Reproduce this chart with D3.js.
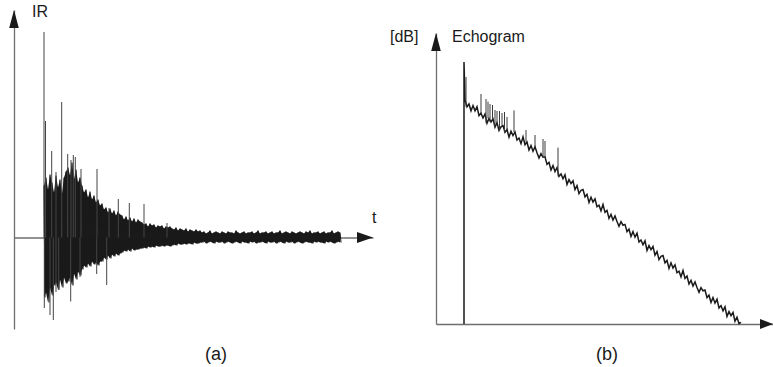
<!DOCTYPE html>
<html><head><meta charset="utf-8">
<script src="https://cdn.jsdelivr.net/npm/d3@7"></script>
<style>body{margin:0;background:#fff}svg{display:block}text{font-family:"Liberation Sans",Arial,sans-serif;font-size:16px;fill:#1a1a1a}</style>
</head><body>
<script>
// ---------- Panel (a): impulse response (arbitrary amplitude units, time in ms) ----------
const irStart = 30, irStep = 2;
const irUpper = [52,60,48,63,55,45,62,50,58,44,60,66,
 70,62,75,58,68,55,60,
 52,45,48,40,46,38,42,35,38,32,
 34,28,30,25,29,24,27,22,26,23,
 22,18,21,17,20,16,19,15,18,16,
 15,13,14,11,14,12,13,10,12,11,12,9,11,10,11,
 9,8,10,7,9,8,7,9,6,8,7,6,8,6,7,
 5,6,4,5,7,4,5,6,5,4,6,5,4,6,5,5,4,7,5,4,5,6,4,5,5,6,4,5,7,4,5,5,6,4,5,6,4,5,5,7,
 4,5,6,5,4,6,5,4,5,6,5,4,6,5,7,4,5,5,6,4,5,6,4,5,5,7,4,5,6,5];
const irLower = [-60,-55,-65,-50,-58,-48,-45,-52,-42,-50,-40,-46,
 -44,-40,-48,-36,-42,-34,-38,
 -32,-28,-30,-26,-29,-24,-27,-25,-28,-24,
 -24,-20,-22,-18,-21,-17,-19,-16,-18,-16,
 -15,-13,-14,-12,-14,-11,-13,-12,-12,-11,
 -11,-10,-11,-9,-10,-9,-10,-8,-9,-9,-8,-9,-8,-8,-9,
 -8,-7,-8,-6,-7,-7,-6,-7,-6,-6,-7,-5,-6,-6,-5,
 -5,-4,-6,-5,-4,-5,-6,-4,-5,-5,-4,-6,-5,-4,-5,-6,-5,-4,-5,-6,-4,-5,-5,-6,-4,-5,-4,-6,-5,-5,
 -4,-5,-6,-4,-5,-5,-4,-6,-5,-4,-5,-6,-4,-5,-5,-4,-6,-5,-4,-5,-6,-5,-4,-5,-5,-6,-4,-5,-4,-5,
 -5,-6,-4,-5,-4,-5,-6,-5,-4,-5];
const irSpikeT = [30,31.5,37.7,42,47.7,53.7,57,59.3,61.3,67,83,95,104.3,115.3,130,153,
                  30.3,36,39.3,42,44.7,56.7,66,82.7,92.7];
const irSpikeA = [205.5,116.5,86.5,65.5,135.5,83.5,77.5,82.5,80.5,68.5,68.5,29.5,38.5,34.5,33.5,14.5,
                  -70.5,-77.5,-82.5,-54.5,-52.5,-64,-39.5,-36.5,-47.5];

// ---------- Panel (b): echogram (dB, time in ms) ----------
const echoStart = 29, echoStep = 2, echoOnsetT = 28, echoOnsetDb = 0;
const echoDb = [-9.5,-11.2,-10.5,-12.2,-10.9,-12.2,-11.2,-13.4,-12.8,-14.0,
 -13.0,-15.3,-14.1,-15.0,-14.2,-16.3,-15.2,-17.1,-16.2,-15.9,
 -17.6,-16.9,-18.8,-17.3,-18.4,-17.5,-19.5,-19.0,-20.4,-18.7,
 -20.7,-20.0,-22.0,-20.9,-22.3,-21.2,-22.7,-24.0,-22.9,-23.8,
 -23.7,-25.6,-25.1,-27.0,-25.9,-27.4,-26.4,-28.6,-28.0,-29.2,
 -28.2,-30.6,-29.4,-30.4,-29.7,-31.9,-30.9,-32.9,-32.1,-31.9,
 -33.7,-33.1,-35.1,-33.8,-35.0,-34.2,-36.2,-35.8,-37.2,-35.6,
 -37.6,-37.1,-39.1,-38.1,-39.5,-38.5,-39.9,-41.1,-39.9,-40.8,
 -40.6,-42.4,-41.8,-43.6,-42.4,-43.8,-42.8,-45.0,-44.5,-45.7,
 -44.7,-47.1,-45.9,-46.9,-46.1,-48.3,-47.4,-49.4,-48.6,-48.4,
 -50.2,-49.6,-51.6,-50.2,-51.5,-50.7,-52.7,-52.3,-53.7,-52.1,
 -54.1,-53.5,-55.5,-54.6,-56.0,-55.0,-56.4,-57.6,-56.4,-57.2,
 -57.0,-58.9,-58.3,-60.1,-58.9,-60.3,-59.3,-61.5,-60.9,-62.2,
 -61.2,-63.6,-62.4,-63.4,-62.6,-64.8,-63.8,-65.4,-65.1];
const echoSpikeT = [30,45,50,52,54,56.5,59,61,63.5,66,68.5,71,78,90,99,107,109,122];
const echoSpikeDb = [-3.75,-8.0,-9.25,-9.9,-10.5,-10.75,-12,-12.25,-12.25,-12.75,-12.5,-13.75,-12.1,-17,-18.25,-19.25,-19.75,-21.4];

const labels = {yA:"IR", xA:"t", yB:"[dB]", titleB:"Echogram", capA:"(a)", capB:"(b)"};

// ---------- drawing ----------
const W = 773, H = 367;
const svg = d3.select("body").append("svg").attr("width", W).attr("height", H);
const axisCol = "#6e6e6e", inkCol = "#1a1a1a";

function arrow(g, x, y, dir, len, half) {
  let pts;
  if (dir === "up") pts = [[x, y], [x - half, y + len], [x + half, y + len]];
  else pts = [[x, y], [x - len, y - half], [x - len, y + half]];
  g.append("path").attr("d", "M" + pts.join("L") + "Z").attr("fill", inkCol);
}

// Panel (a)
const xA = d3.scaleLinear().domain([0, 359]).range([14, 373]);
const yA = d3.scaleLinear().domain([-91.5, 227.5]).range([329, 10]);
const gA = svg.append("g");
const axA = gA.append("g").attr("transform", `translate(0,${yA(0)})`)
  .call(d3.axisBottom(xA).tickValues([]).tickSizeOuter(0));
const ayA = gA.append("g").attr("transform", `translate(${xA(0)},0)`)
  .call(d3.axisLeft(yA).tickValues([]).tickSizeOuter(0));
[axA, ayA].forEach(a => a.select(".domain").attr("stroke", axisCol).attr("stroke-width", 1.3));

const irT = irUpper.map((_, i) => irStart + i * irStep);
// dense body of the response
gA.append("path")
  .attr("d", d3.area().x((d, i) => xA(irT[i])).y0((d, i) => yA(irLower[i])).y1(d => yA(d))(irUpper))
  .attr("fill", inkCol);
const pts = [];
irT.forEach((t, i) => { pts.push([xA(t), yA(irUpper[i])]); pts.push([xA(t + 1), yA(irLower[i])]); });
gA.append("path").attr("d", d3.line()(pts)).attr("fill", "none").attr("stroke", inkCol).attr("stroke-width", 1.1);
gA.selectAll("line.sp").data(irSpikeT).join("line")
  .attr("x1", d => xA(d)).attr("x2", d => xA(d))
  .attr("y1", yA(0)).attr("y2", (d, i) => yA(irSpikeA[i]))
  .attr("stroke", "#444").attr("stroke-width", 1);
arrow(gA, xA(0), yA.range()[1], "up", 18, 4.8);
arrow(gA, xA.range()[1], yA(0), "right", 16, 5.5);
gA.append("text").attr("x", 32).attr("y", 17).text(labels.yA);
gA.append("text").attr("x", 372).attr("y", 223).text(labels.xA);
gA.append("text").attr("x", 216).attr("y", 360).attr("text-anchor", "middle").style("font-size", "18px").text(labels.capA);

// Panel (b)
const xB = d3.scaleLinear().domain([0, 337]).range([436, 773]);
const yB = d3.scaleLinear().domain([-65.5, 7.25]).range([324, 33]);
const gB = svg.append("g");
const axB = gB.append("g").attr("transform", `translate(0,${yB(-65.5)})`)
  .call(d3.axisBottom(xB).tickValues([]).tickSizeOuter(0));
const ayB = gB.append("g").attr("transform", `translate(${xB(0)},0)`)
  .call(d3.axisLeft(yB).tickValues([]).tickSizeOuter(0));
[axB, ayB].forEach(a => a.select(".domain").attr("stroke", axisCol).attr("stroke-width", 1.3));

const echoT = echoDb.map((_, i) => echoStart + i * echoStep);
const ePts = [[xB(echoOnsetT), yB(-65.5)], [xB(echoOnsetT), yB(echoOnsetDb)]]
  .concat(echoT.map((t, i) => [xB(t), yB(echoDb[i])]));
gB.append("path").attr("d", d3.line()(ePts)).attr("fill", "none").attr("stroke", inkCol)
  .attr("stroke-width", 1.5).attr("stroke-linejoin", "miter");
gB.selectAll("line.sp").data(echoSpikeT).join("line")
  .attr("x1", d => xB(d)).attr("x2", d => xB(d))
  .attr("y1", d => { const k = Math.max(0, Math.round((d - echoStart) / echoStep)); return yB(echoDb[k]); })
  .attr("y2", (d, i) => yB(echoSpikeDb[i]))
  .attr("stroke", "#3a3a3a").attr("stroke-width", 1);
arrow(gB, xB(0), yB.range()[1], "up", 18, 4.8);
arrow(gB, xB.range()[1], yB(-65.5), "right", 13, 5);
gB.append("text").attr("x", 390).attr("y", 42).text(labels.yB);
gB.append("text").attr("x", 452).attr("y", 42).text(labels.titleB);
gB.append("text").attr("x", 607).attr("y", 360).attr("text-anchor", "middle").style("font-size", "18px").text(labels.capB);
</script>
</body></html>
